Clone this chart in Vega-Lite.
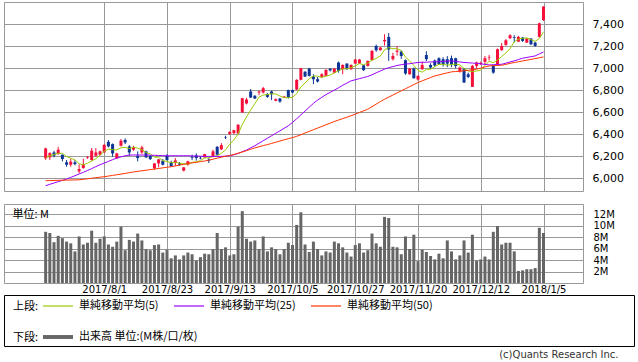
{
"$schema":"https://vega.github.io/schema/vega-lite/v6.json",
"padding":{"left":3,"top":1,"right":0,"bottom":0},
"background":"white",
"config":{"font":"DejaVu Sans","view":{"stroke":"#999999","strokeWidth":1},
"axis":{"gridColor":"#999999","gridWidth":1,"gridOpacity":1,"labelColor":"#000000","labelFont":"DejaVu Sans","labelFontSize":11,"ticks":false,"domain":false,"labelOverlap":false}},
"datasets":{"px":[
{"i":0,"d":"2017/7/11","o":6179,"h":6275,"l":6165,"c":6270,"v":8.9,"m5":6182,"m25":5930,"m50":5976},
{"i":1,"d":"2017/7/12","o":6188,"h":6235,"l":6165,"c":6227,"v":8.7,"m5":6203,"m25":5943,"m50":5977},
{"i":2,"d":"2017/7/13","o":6233,"h":6248,"l":6188,"c":6203,"v":7.1,"m5":6215,"m25":5955,"m50":5978},
{"i":3,"d":"2017/7/14","o":6218,"h":6285,"l":6212,"c":6258,"v":8.2,"m5":6224,"m25":5967,"m50":5979},
{"i":4,"d":"2017/7/18","o":6212,"h":6215,"l":6152,"c":6173,"v":7.8,"m5":6226,"m25":5979,"m50":5980},
{"i":5,"d":"2017/7/19","o":6143,"h":6164,"l":6103,"c":6121,"v":7.2,"m5":6196,"m25":5991,"m50":5981},
{"i":6,"d":"2017/7/20","o":6121,"h":6176,"l":6103,"c":6149,"v":6.9,"m5":6181,"m25":6006,"m50":5982},
{"i":7,"d":"2017/7/21","o":6143,"h":6164,"l":6115,"c":6127,"v":5.5,"m5":6166,"m25":6021,"m50":5983},
{"i":8,"d":"2017/7/24","o":6061,"h":6125,"l":6043,"c":6082,"v":8.1,"m5":6130,"m25":6037,"m50":5984},
{"i":9,"d":"2017/7/25","o":6091,"h":6176,"l":6085,"c":6127,"v":6.7,"m5":6121,"m25":6052,"m50":5988},
{"i":10,"d":"2017/7/26","o":6185,"h":6200,"l":6175,"c":6190,"v":7.0,"m5":6135,"m25":6069,"m50":5993},
{"i":11,"d":"2017/7/27","o":6164,"h":6273,"l":6158,"c":6249,"v":9.1,"m5":6155,"m25":6086,"m50":5998},
{"i":12,"d":"2017/7/28","o":6203,"h":6273,"l":6194,"c":6233,"v":7.0,"m5":6176,"m25":6104,"m50":6003},
{"i":13,"d":"2017/7/31","o":6212,"h":6250,"l":6205,"c":6243,"v":7.7,"m5":6208,"m25":6121,"m50":6008},
{"i":14,"d":"2017/8/1","o":6233,"h":6305,"l":6230,"c":6303,"v":8.1,"m5":6244,"m25":6136,"m50":6012},
{"i":15,"d":"2017/8/2","o":6330,"h":6346,"l":6279,"c":6288,"v":6.7,"m5":6263,"m25":6152,"m50":6018},
{"i":16,"d":"2017/8/3","o":6309,"h":6315,"l":6194,"c":6224,"v":6.3,"m5":6258,"m25":6167,"m50":6024},
{"i":17,"d":"2017/8/4","o":6179,"h":6230,"l":6175,"c":6224,"v":7.2,"m5":6256,"m25":6182,"m50":6030},
{"i":18,"d":"2017/8/7","o":6294,"h":6355,"l":6288,"c":6340,"v":9.8,"m5":6276,"m25":6193,"m50":6036},
{"i":19,"d":"2017/8/8","o":6346,"h":6361,"l":6309,"c":6324,"v":5.7,"m5":6280,"m25":6203,"m50":6042},
{"i":20,"d":"2017/8/9","o":6288,"h":6300,"l":6203,"c":6233,"v":7.5,"m5":6269,"m25":6209,"m50":6049},
{"i":21,"d":"2017/8/10","o":6258,"h":6294,"l":6249,"c":6279,"v":7.2,"m5":6280,"m25":6210,"m50":6055},
{"i":22,"d":"2017/8/14","o":6203,"h":6243,"l":6152,"c":6182,"v":8.6,"m5":6272,"m25":6210,"m50":6061},
{"i":23,"d":"2017/8/15","o":6233,"h":6294,"l":6218,"c":6279,"v":7.4,"m5":6259,"m25":6209,"m50":6066},
{"i":24,"d":"2017/8/16","o":6243,"h":6249,"l":6182,"c":6188,"v":5.9,"m5":6232,"m25":6209,"m50":6071},
{"i":25,"d":"2017/8/17","o":6203,"h":6206,"l":6164,"c":6173,"v":5.7,"m5":6220,"m25":6208,"m50":6077},
{"i":26,"d":"2017/8/18","o":6088,"h":6136,"l":6076,"c":6133,"v":6.6,"m5":6191,"m25":6207,"m50":6082},
{"i":27,"d":"2017/8/21","o":6133,"h":6173,"l":6097,"c":6170,"v":6.7,"m5":6189,"m25":6205,"m50":6087},
{"i":28,"d":"2017/8/22","o":6158,"h":6173,"l":6115,"c":6121,"v":5.3,"m5":6157,"m25":6204,"m50":6093},
{"i":29,"d":"2017/8/23","o":6203,"h":6218,"l":6158,"c":6164,"v":5.8,"m5":6152,"m25":6203,"m50":6098},
{"i":30,"d":"2017/8/24","o":6146,"h":6158,"l":6103,"c":6106,"v":4.3,"m5":6139,"m25":6203,"m50":6103},
{"i":31,"d":"2017/8/25","o":6136,"h":6182,"l":6109,"c":6161,"v":4.8,"m5":6144,"m25":6203,"m50":6110},
{"i":32,"d":"2017/8/28","o":6133,"h":6146,"l":6112,"c":6121,"v":4.1,"m5":6135,"m25":6203,"m50":6118},
{"i":33,"d":"2017/8/29","o":6067,"h":6100,"l":6061,"c":6097,"v":4.8,"m5":6130,"m25":6203,"m50":6125},
{"i":34,"d":"2017/8/30","o":6121,"h":6158,"l":6112,"c":6152,"v":5.3,"m5":6127,"m25":6203,"m50":6133},
{"i":35,"d":"2017/8/31","o":6191,"h":6212,"l":6164,"c":6185,"v":5.0,"m5":6143,"m25":6201,"m50":6138},
{"i":36,"d":"2017/9/1","o":6206,"h":6224,"l":6158,"c":6182,"v":3.9,"m5":6147,"m25":6200,"m50":6143},
{"i":37,"d":"2017/9/4","o":6185,"h":6195,"l":6170,"c":6180,"v":4.5,"m5":6159,"m25":6199,"m50":6149},
{"i":38,"d":"2017/9/5","o":6188,"h":6220,"l":6185,"c":6218,"v":5.1,"m5":6183,"m25":6197,"m50":6155},
{"i":39,"d":"2017/9/6","o":6167,"h":6182,"l":6137,"c":6158,"v":5.0,"m5":6185,"m25":6197,"m50":6163},
{"i":40,"d":"2017/9/7","o":6194,"h":6258,"l":6190,"c":6243,"v":5.9,"m5":6196,"m25":6197,"m50":6172},
{"i":41,"d":"2017/9/8","o":6285,"h":6290,"l":6205,"c":6212,"v":8.7,"m5":6202,"m25":6197,"m50":6181},
{"i":42,"d":"2017/9/11","o":6261,"h":6318,"l":6255,"c":6300,"v":5.9,"m5":6226,"m25":6197,"m50":6190},
{"i":43,"d":"2017/9/12","o":6372,"h":6385,"l":6355,"c":6368,"v":6.2,"m5":6256,"m25":6200,"m50":6198},
{"i":44,"d":"2017/9/13","o":6400,"h":6425,"l":6395,"c":6421,"v":4.8,"m5":6309,"m25":6203,"m50":6205},
{"i":45,"d":"2017/9/14","o":6409,"h":6440,"l":6400,"c":6436,"v":5.0,"m5":6347,"m25":6212,"m50":6215},
{"i":46,"d":"2017/9/15","o":6406,"h":6490,"l":6400,"c":6485,"v":9.8,"m5":6402,"m25":6224,"m50":6226},
{"i":47,"d":"2017/9/19","o":6597,"h":6730,"l":6595,"c":6727,"v":12.5,"m5":6487,"m25":6240,"m50":6237},
{"i":48,"d":"2017/9/20","o":6679,"h":6730,"l":6670,"c":6715,"v":7.7,"m5":6557,"m25":6255,"m50":6249},
{"i":49,"d":"2017/9/21","o":6788,"h":6810,"l":6730,"c":6733,"v":7.2,"m5":6619,"m25":6275,"m50":6262},
{"i":50,"d":"2017/9/22","o":6749,"h":6755,"l":6720,"c":6724,"v":7.4,"m5":6677,"m25":6294,"m50":6274},
{"i":51,"d":"2017/9/25","o":6779,"h":6795,"l":6755,"c":6788,"v":5.9,"m5":6737,"m25":6317,"m50":6285},
{"i":52,"d":"2017/9/26","o":6779,"h":6830,"l":6770,"c":6818,"v":8.1,"m5":6756,"m25":6340,"m50":6295},
{"i":53,"d":"2017/9/27","o":6764,"h":6775,"l":6730,"c":6739,"v":5.5,"m5":6760,"m25":6362,"m50":6305},
{"i":54,"d":"2017/9/28","o":6788,"h":6795,"l":6710,"c":6764,"v":6.2,"m5":6767,"m25":6385,"m50":6315},
{"i":55,"d":"2017/9/29","o":6703,"h":6725,"l":6700,"c":6718,"v":5.9,"m5":6765,"m25":6408,"m50":6326},
{"i":56,"d":"2017/10/2","o":6724,"h":6730,"l":6685,"c":6697,"v":5.0,"m5":6747,"m25":6430,"m50":6337},
{"i":57,"d":"2017/10/3","o":6733,"h":6748,"l":6730,"c":6742,"v":5.9,"m5":6732,"m25":6453,"m50":6348},
{"i":58,"d":"2017/10/4","o":6800,"h":6805,"l":6725,"c":6733,"v":7.0,"m5":6731,"m25":6476,"m50":6358},
{"i":59,"d":"2017/10/5","o":6800,"h":6805,"l":6775,"c":6779,"v":6.6,"m5":6734,"m25":6506,"m50":6368},
{"i":60,"d":"2017/10/6","o":6806,"h":6900,"l":6800,"c":6894,"v":10.1,"m5":6769,"m25":6540,"m50":6380},
{"i":61,"d":"2017/10/10","o":6894,"h":7003,"l":6890,"c":7000,"v":12.3,"m5":6830,"m25":6575,"m50":6394},
{"i":62,"d":"2017/10/11","o":6967,"h":6975,"l":6920,"c":6924,"v":6.7,"m5":6866,"m25":6610,"m50":6410},
{"i":63,"d":"2017/10/12","o":6997,"h":7003,"l":6925,"c":6930,"v":5.4,"m5":6905,"m25":6645,"m50":6425},
{"i":64,"d":"2017/10/13","o":6924,"h":6945,"l":6855,"c":6900,"v":7.2,"m5":6930,"m25":6680,"m50":6440},
{"i":65,"d":"2017/10/16","o":6900,"h":6920,"l":6870,"c":6879,"v":5.9,"m5":6927,"m25":6710,"m50":6455},
{"i":66,"d":"2017/10/17","o":6921,"h":6955,"l":6910,"c":6945,"v":4.8,"m5":6916,"m25":6735,"m50":6470},
{"i":67,"d":"2017/10/18","o":6930,"h":6990,"l":6925,"c":6985,"v":5.5,"m5":6928,"m25":6760,"m50":6485},
{"i":68,"d":"2017/10/19","o":6995,"h":7000,"l":6970,"c":6980,"v":5.3,"m5":6938,"m25":6780,"m50":6500},
{"i":69,"d":"2017/10/20","o":6960,"h":7000,"l":6955,"c":6997,"v":7.2,"m5":6957,"m25":6800,"m50":6515},
{"i":70,"d":"2017/10/23","o":7052,"h":7060,"l":6960,"c":6976,"v":6.9,"m5":6977,"m25":6822,"m50":6528},
{"i":71,"d":"2017/10/24","o":6991,"h":7035,"l":6945,"c":7030,"v":6.2,"m5":6994,"m25":6845,"m50":6541},
{"i":72,"d":"2017/10/25","o":7042,"h":7045,"l":6985,"c":6991,"v":5.3,"m5":6995,"m25":6865,"m50":6554},
{"i":73,"d":"2017/10/26","o":6991,"h":7035,"l":6985,"c":7030,"v":4.6,"m5":7005,"m25":6885,"m50":6567},
{"i":74,"d":"2017/10/27","o":7042,"h":7085,"l":7040,"c":7079,"v":6.6,"m5":7021,"m25":6895,"m50":6582},
{"i":75,"d":"2017/10/30","o":7042,"h":7085,"l":7040,"c":7079,"v":6.9,"m5":7042,"m25":6905,"m50":6597},
{"i":76,"d":"2017/10/31","o":7027,"h":7030,"l":6975,"c":6982,"v":5.3,"m5":7032,"m25":6915,"m50":6612},
{"i":77,"d":"2017/11/1","o":7021,"h":7070,"l":7015,"c":7067,"v":5.7,"m5":7047,"m25":6925,"m50":6627},
{"i":78,"d":"2017/11/2","o":7073,"h":7165,"l":7070,"c":7158,"v":8.6,"m5":7073,"m25":6940,"m50":6650},
{"i":79,"d":"2017/11/6","o":7203,"h":7215,"l":7150,"c":7164,"v":6.9,"m5":7090,"m25":6958,"m50":6673},
{"i":80,"d":"2017/11/7","o":7164,"h":7195,"l":7160,"c":7188,"v":6.3,"m5":7112,"m25":6975,"m50":6696},
{"i":81,"d":"2017/11/8","o":7245,"h":7310,"l":7206,"c":7258,"v":11.5,"m5":7167,"m25":6992,"m50":6718},
{"i":82,"d":"2017/11/9","o":7285,"h":7320,"l":7067,"c":7170,"v":11.3,"m5":7188,"m25":7005,"m50":6737},
{"i":83,"d":"2017/11/10","o":7082,"h":7140,"l":7070,"c":7112,"v":6.3,"m5":7178,"m25":7015,"m50":6756},
{"i":84,"d":"2017/11/13","o":7150,"h":7203,"l":7115,"c":7160,"v":6.2,"m5":7178,"m25":7025,"m50":6775},
{"i":85,"d":"2017/11/14","o":7152,"h":7160,"l":7085,"c":7112,"v":5.0,"m5":7162,"m25":7032,"m50":6794},
{"i":86,"d":"2017/11/15","o":7073,"h":7080,"l":6940,"c":6952,"v":8.1,"m5":7101,"m25":7038,"m50":6813},
{"i":87,"d":"2017/11/16","o":6945,"h":7000,"l":6940,"c":6997,"v":5.9,"m5":7067,"m25":7041,"m50":6832},
{"i":88,"d":"2017/11/17","o":6997,"h":7006,"l":6905,"c":6909,"v":8.4,"m5":7026,"m25":7047,"m50":6851},
{"i":89,"d":"2017/11/20","o":6897,"h":6935,"l":6888,"c":6930,"v":3.8,"m5":6980,"m25":7052,"m50":6870},
{"i":90,"d":"2017/11/21","o":6991,"h":7060,"l":6985,"c":7030,"v":5.8,"m5":6964,"m25":7054,"m50":6885},
{"i":91,"d":"2017/11/22","o":7120,"h":7155,"l":7065,"c":7082,"v":5.4,"m5":6990,"m25":7055,"m50":6900},
{"i":92,"d":"2017/11/24","o":7030,"h":7045,"l":6995,"c":7006,"v":4.7,"m5":6991,"m25":7057,"m50":6915},
{"i":93,"d":"2017/11/27","o":7070,"h":7080,"l":7015,"c":7025,"v":4.1,"m5":7014,"m25":7058,"m50":6930},
{"i":94,"d":"2017/11/28","o":7091,"h":7100,"l":7030,"c":7036,"v":5.1,"m5":7035,"m25":7060,"m50":6939},
{"i":95,"d":"2017/11/29","o":7082,"h":7100,"l":7015,"c":7036,"v":4.3,"m5":7036,"m25":7062,"m50":6949},
{"i":96,"d":"2017/11/30","o":7082,"h":7110,"l":7010,"c":7042,"v":7.4,"m5":7028,"m25":7065,"m50":6958},
{"i":97,"d":"2017/12/1","o":7091,"h":7115,"l":7010,"c":7036,"v":5.5,"m5":7034,"m25":7067,"m50":6967},
{"i":98,"d":"2017/12/4","o":7091,"h":7095,"l":7000,"c":7020,"v":4.1,"m5":7037,"m25":7062,"m50":6970},
{"i":99,"d":"2017/12/5","o":6970,"h":7015,"l":6960,"c":7006,"v":4.8,"m5":7031,"m25":7057,"m50":6973},
{"i":100,"d":"2017/12/6","o":6991,"h":7000,"l":6865,"c":6870,"v":7.4,"m5":6998,"m25":7052,"m50":6976},
{"i":101,"d":"2017/12/7","o":6945,"h":6960,"l":6910,"c":6921,"v":5.3,"m5":6974,"m25":7050,"m50":6981},
{"i":102,"d":"2017/12/8","o":6830,"h":7030,"l":6830,"c":7021,"v":8.4,"m5":6971,"m25":7047,"m50":6986},
{"i":103,"d":"2017/12/11","o":7021,"h":7060,"l":7000,"c":7052,"v":3.9,"m5":6974,"m25":7045,"m50":6991},
{"i":104,"d":"2017/12/12","o":7040,"h":7060,"l":7030,"c":7050,"v":4.1,"m5":6983,"m25":7040,"m50":7001},
{"i":105,"d":"2017/12/13","o":7058,"h":7112,"l":7036,"c":7091,"v":4.6,"m5":7027,"m25":7035,"m50":7011},
{"i":106,"d":"2017/12/14","o":7097,"h":7120,"l":7070,"c":7103,"v":4.1,"m5":7063,"m25":7030,"m50":7021},
{"i":107,"d":"2017/12/15","o":7021,"h":7030,"l":6950,"c":6960,"v":8.9,"m5":7051,"m25":7032,"m50":7023},
{"i":108,"d":"2017/12/18","o":7036,"h":7180,"l":7030,"c":7173,"v":9.9,"m5":7075,"m25":7034,"m50":7025},
{"i":109,"d":"2017/12/19","o":7164,"h":7230,"l":7160,"c":7203,"v":6.7,"m5":7106,"m25":7036,"m50":7027},
{"i":110,"d":"2017/12/20","o":7212,"h":7265,"l":7205,"c":7255,"v":7.0,"m5":7139,"m25":7046,"m50":7035},
{"i":111,"d":"2017/12/21","o":7273,"h":7310,"l":7265,"c":7300,"v":7.0,"m5":7178,"m25":7057,"m50":7044},
{"i":112,"d":"2017/12/22","o":7282,"h":7300,"l":7235,"c":7276,"v":5.5,"m5":7241,"m25":7067,"m50":7052},
{"i":113,"d":"2017/12/25","o":7242,"h":7295,"l":7240,"c":7285,"v":2.1,"m5":7264,"m25":7079,"m50":7059},
{"i":114,"d":"2017/12/26","o":7279,"h":7285,"l":7240,"c":7249,"v":2.2,"m5":7273,"m25":7091,"m50":7066},
{"i":115,"d":"2017/12/27","o":7233,"h":7275,"l":7230,"c":7270,"v":2.4,"m5":7276,"m25":7098,"m50":7073},
{"i":116,"d":"2017/12/28","o":7270,"h":7275,"l":7210,"c":7218,"v":2.4,"m5":7260,"m25":7105,"m50":7080},
{"i":117,"d":"2017/12/29","o":7233,"h":7240,"l":7195,"c":7203,"v":2.6,"m5":7245,"m25":7112,"m50":7088},
{"i":118,"d":"2018/1/4","o":7285,"h":7415,"l":7280,"c":7409,"v":9.6,"m5":7270,"m25":7130,"m50":7095},
{"i":119,"d":"2018/1/5","o":7439,"h":7565,"l":7430,"c":7561,"v":8.7,"m5":7332,"m25":7148,"m50":7103}
]},
"vconcat":[
{"spacing":11,"vconcat":[
{"width":579,"height":189,"data":{"name":"px"},
"encoding":{"x":{"field":"i","type":"quantitative","scale":{"domain":[-8.76,127.24],"nice":false,"zero":false},
"axis":{"values":[14,29,44,59,74,89,104,119],"labels":false,"ticks":false,"domain":false,"grid":true,"title":null}}},
"layer":[
{"mark":{"type":"rule","strokeWidth":1},
"encoding":{"y":{"field":"l","type":"quantitative","title":null,"scale":{"domain":[5882,7603],"nice":false,"zero":false},
"axis":{"orient":"right","values":[6000,6200,6400,6600,6800,7000,7200,7400],"format":",.0f","grid":true,"labelPadding":9,"labelOverlap":false,"title":null}},
"y2":{"field":"h"},
"color":{"condition":{"test":"datum.c >= datum.o","value":"#f5103c"},"value":"#0c3494"}}},
{"mark":{"type":"bar","size":3},
"encoding":{"y":{"field":"o","type":"quantitative","title":null,
"axis":{"orient":"right","values":[6000,6200,6400,6600,6800,7000,7200,7400],"format":",.0f","grid":true,"labelPadding":9,"labelOverlap":false,"title":null}},
"y2":{"field":"c"},
"color":{"condition":{"test":"datum.c >= datum.o","value":"#f5103c"},"value":"#0c3494"}}},
{"transform":[{"fold":["m5","m25","m50"],"as":["s","val"]}],
"mark":{"type":"line","strokeWidth":1},
"encoding":{"y":{"field":"val","type":"quantitative","title":null,
"axis":{"orient":"right","values":[6000,6200,6400,6600,6800,7000,7200,7400],"format":",.0f","grid":true,"labelPadding":9,"labelOverlap":false,"title":null}},
"stroke":{"field":"s","type":"nominal","scale":{"domain":["m5","m25","m50"],"range":["#99cc00","#9900ff","#ff3300"]},
"legend":{"orient":"none","legendX":9,"legendY":288,"direction":"horizontal","title":"上段:","titleOrient":"left","titleAnchor":"middle","titleBaseline":"top","titleFont":"Noto Sans CJK JP","titleFontSize":11,"titleFontWeight":"normal","titleColor":"#000000","titlePadding":3,"labelFont":"Noto Sans CJK JP","labelFontSize":11,"labelColor":"#000000","labelOffset":5,"symbolSize":900,"symbolStrokeWidth":1.2,"columnPadding":12,
"labelExpr":"datum.label == 'm5' ? '単純移動平均(5)' : datum.label == 'm25' ? '単純移動平均(25)' : '単純移動平均(50)'"}}}}
]},
{"width":579,"height":79,"data":{"name":"px"},
"mark":{"type":"bar","size":3},
"encoding":{
"x":{"field":"i","type":"quantitative","scale":{"domain":[-8.76,127.24],"nice":false,"zero":false},
"axis":{"values":[14,29,44,59,74,89,104,119],"grid":true,"ticks":false,"domain":false,"title":null,"labelPadding":1,"labelFontSize":10,"labelOverlap":false,"labelFlush":false,
"labelExpr":"datum.value==14?'2017/8/1':datum.value==29?'2017/8/23':datum.value==44?'2017/9/13':datum.value==59?'2017/10/5':datum.value==74?'2017/10/27':datum.value==89?'2017/11/20':datum.value==104?'2017/12/12':'2018/1/5'"}},
"y":{"field":"v","type":"quantitative","scale":{"domain":[0,13.74],"nice":false,"zero":true},
"axis":{"orient":"right","values":[2,4,6,8,10,12],"labelExpr":"datum.value + 'M'","grid":true,"labelPadding":10,"labelFontSize":10,
"title":"単位: M","titleAngle":0,"titleX":-571,"titleY":10,"titleAlign":"left","titleBaseline":"middle","titleFont":"Noto Sans CJK JP","titleFontSize":11,"titleFontWeight":"normal","titleColor":"#000000"}},
"color":{"datum":"出来高 単位:(M株/口/枚)","type":"nominal","scale":{"range":["#666666"]},
"legend":{"orient":"none","legendX":9,"legendY":319,"title":"下段:","titleOrient":"left","titleAnchor":"middle","titleBaseline":"top","titleFont":"Noto Sans CJK JP","titleFontSize":11,"titleFontWeight":"normal","titleColor":"#000000","titlePadding":3,"labelFont":"Noto Sans CJK JP","labelFontSize":11,"labelColor":"#000000","labelOffset":5,"symbolType":"M-1,-0.13H1V0.13H-1Z","symbolSize":900,"symbolOpacity":1}}}}
]},
{"width":630,"height":51,"view":{"stroke":"#000000"},"data":{"values":[]},"mark":"point"}
],
"spacing":-2,
"title":{"text":"(c)Quants Research Inc.","orient":"bottom","anchor":"end","font":"DejaVu Sans","fontSize":10,"fontWeight":"normal","color":"#333333","offset":3,"dx":-16}
}
